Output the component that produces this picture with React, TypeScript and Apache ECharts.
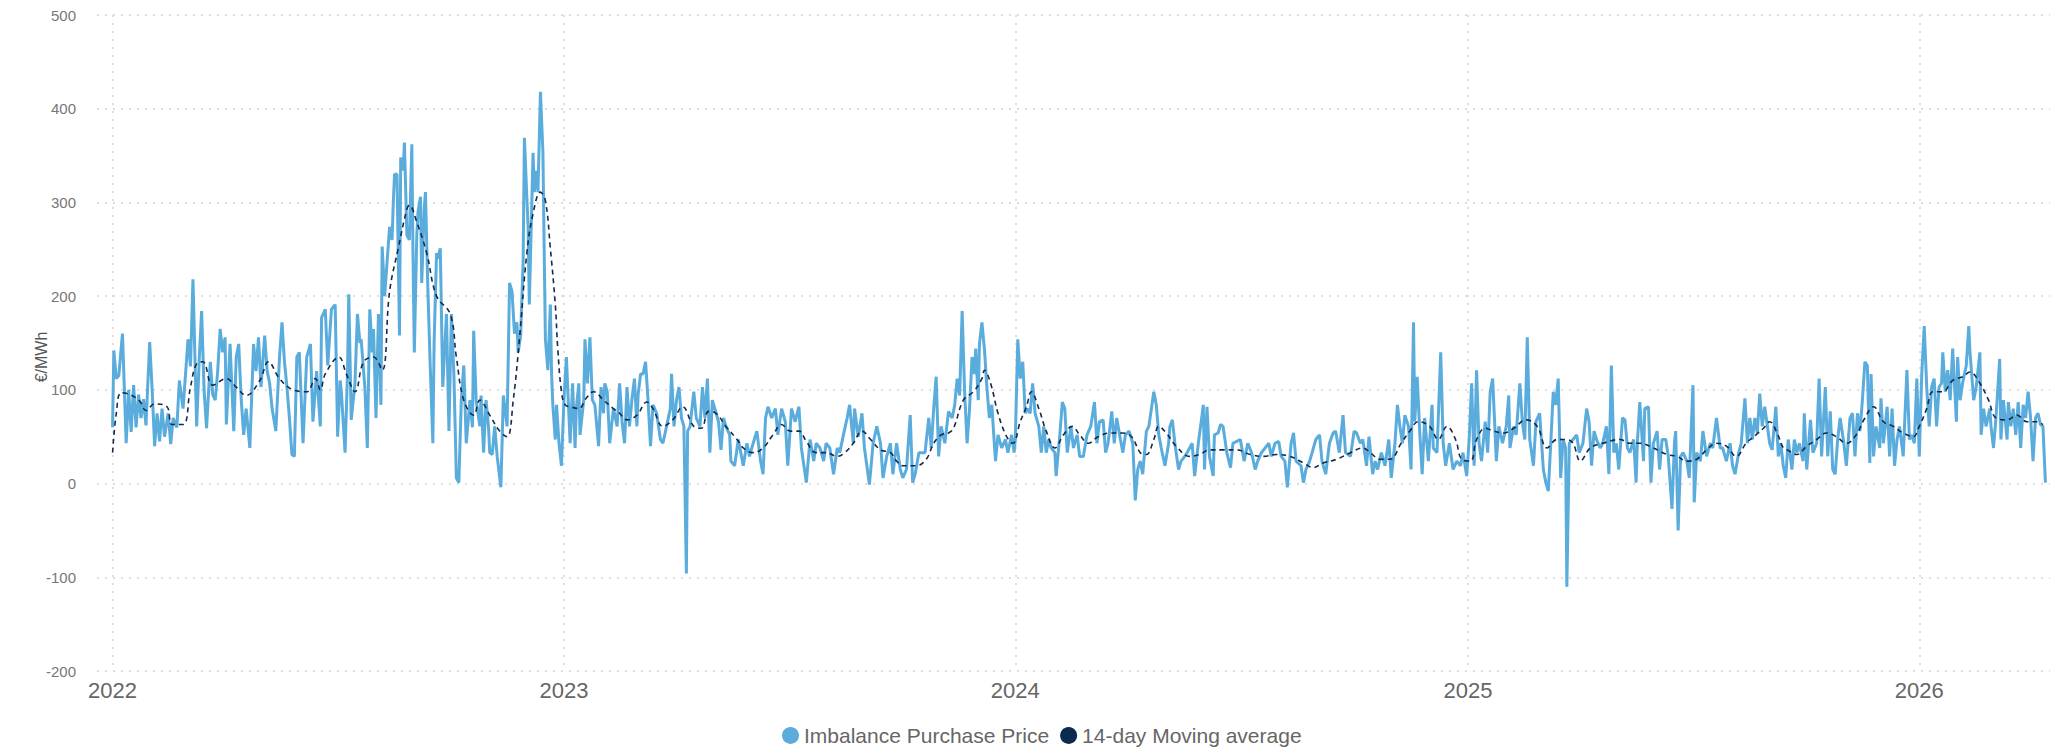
import { useEffect, useRef } from "react";
import * as echarts from "echarts";

// x values: day offset from 2022-01-01, y values: €/MWh
const seriesNames = ["Imbalance Purchase Price", "14-day Moving average"];
const yAxisName = "€/MWh";
const yMin = -200;
const yMax = 500;
const yStep = 100;

const price2022 = [[0,60],[1,142],[3,112],[5,115],[8,160],[11,43],[13,100],[15,55],[17,105],[19,60],[21,95],[23,70],[25,90],[27,62],[30,151],[32,100],[34,40],[36,75],[38,45],[40,80],[42,50],[45,75],[47,42],[49,70],[52,60],[54,110],[57,80],[61,154],[63,125],[65,218],[68,61],[70,130],[72,184],[74,100],[76,59],[79,130],[81,95],[83,89],[85,120],[87,165],[89,140],[91,156],[92,63],[95,149],[98,56],[100,135],[102,149],[104,90],[106,52],[108,80],[111,38],[114,149],[116,120],[118,156],[120,103],[123,158],[125,120],[127,107],[129,80],[132,56],[135,135],[137,172],[139,130],[141,103],[143,70],[145,31],[147,29],[149,135],[151,140],[154,43],[157,135],[160,149],[162,66],[165,120],[168,61],[169,177],[172,186],[174,126],[177,186],[180,191],[182,50],[184,110],[185,98],[188,33],[190,120],[191,202],[193,68],[196,107],[198,181],[200,150],[201,154],[204,103],[206,38],[208,186],[210,140],[211,165],[213,70],[215,181],[217,84],[218,253],[220,200],[222,237],[224,274],[226,260],[227,300],[228,330],[230,330],[232,158],[233,348],[235,334],[236,364],[238,265],[240,260],[242,362],[243,237],[244,140],[246,265],[247,290],[249,306],[250,214],[252,293],[253,311],[255,205],[257,120],[259,43],[260,150],[262,246],[263,240],[265,251],[267,103],[270,181],[272,56],[274,181],[276,117],[278,6],[280,1],[282,89],[284,126],[286,43],[289,89],[291,60],[292,163],[294,89],[297,61],[298,94],[300,33],[302,89],[304,60],[305,33],[307,31],[309,61],[311,29],[314,-4],[316,94],[319,61],[321,214],[323,205],[325,160],[327,172],[328,140],[330,158],[332,237],[333,369],[336,274],[337,191],[340,353],[341,311],[343,334],[344,311],[346,418],[348,353],[349,251],[350,154],[352,121],[354,191],[355,117],[356,84],[358,47],[359,84],[361,43],[363,19]];

const price2023 = [[365,89],[367,135],[368,103],[370,43],[372,107],[374,38],[375,80],[377,107],[378,52],[381,89],[382,154],[384,107],[386,156],[388,89],[390,84],[393,40],[395,103],[397,75],[398,107],[400,98],[402,43],[405,80],[408,61],[410,107],[412,66],[414,43],[416,103],[418,61],[420,90],[422,112],[424,61],[425,95],[427,117],[429,117],[431,130],[433,89],[435,40],[437,84],[440,75],[443,47],[445,43],[448,61],[451,80],[452,117],[454,61],[456,89],[458,103],[460,70],[462,61],[464,-96],[465,56],[467,61],[470,98],[472,70],[475,61],[477,103],[479,70],[481,112],[483,33],[485,89],[487,80],[490,66],[492,36],[494,70],[496,61],[499,52],[500,24],[503,19],[506,47],[510,19],[513,43],[515,29],[518,43],[521,56],[524,24],[526,10],[528,70],[530,82],[533,70],[536,80],[538,52],[541,80],[544,66],[546,19],[549,80],[552,66],[555,82],[557,38],[561,1],[564,47],[567,24],[569,43],[572,38],[575,24],[577,43],[580,38],[583,10],[586,38],[588,33],[591,52],[594,70],[596,84],[599,43],[600,80],[603,50],[606,75],[608,38],[612,-1],[615,43],[618,61],[621,43],[623,6],[626,29],[629,43],[631,10],[634,43],[637,15],[639,6],[642,15],[645,73],[647,1],[649,10],[652,33],[654,33],[657,33],[660,70],[662,38],[664,80],[666,114],[668,29],[670,61],[673,43],[676,77],[679,70],[681,84],[683,112],[685,94],[687,184],[689,98],[691,43],[693,80],[695,135],[697,117],[698,144],[700,89],[701,149],[703,172],[705,144],[707,103],[709,70],[711,84],[713,43],[714,24],[716,52],[719,38],[722,47],[724,33],[727,52],[729,33]];

const price2024 = [[730,47],[732,154],[734,112],[736,130],[738,75],[740,80],[742,75],[744,107],[746,75],[749,61],[751,33],[753,61],[755,33],[757,47],[759,38],[762,33],[763,8],[766,52],[768,87],[770,80],[772,33],[775,61],[777,38],[780,52],[782,29],[785,29],[788,52],[791,61],[794,87],[796,43],[798,66],[801,68],[803,33],[805,43],[808,77],[810,43],[812,70],[815,47],[817,33],[819,52],[822,56],[825,43],[827,-18],[829,15],[831,24],[833,10],[836,56],[838,61],[842,98],[844,84],[846,52],[848,38],[851,19],[854,43],[855,61],[857,68],[859,43],[862,15],[864,24],[867,29],[869,33],[873,43],[875,8],[878,43],[881,73],[882,84],[883,15],[885,82],[887,29],[890,8],[891,52],[894,54],[896,63],[898,61],[901,33],[904,17],[906,43],[909,45],[912,47],[915,24],[918,43],[921,33],[924,15],[926,24],[929,33],[932,38],[935,43],[937,29],[940,43],[943,45],[945,29],[948,24],[950,-4],[953,43],[955,54],[957,24],[961,19],[963,1],[965,15],[968,24],[970,33],[973,47],[976,52],[978,24],[981,10],[984,43],[987,54],[989,56],[992,33],[995,73],[997,33],[1001,29],[1004,56],[1006,54],[1009,43],[1011,47],[1014,19],[1016,50],[1019,10],[1021,24],[1023,15],[1026,33],[1029,19],[1032,47],[1034,6],[1037,43],[1039,84],[1041,61],[1043,43],[1045,73],[1048,61],[1050,15],[1052,172],[1053,66],[1055,114],[1057,56],[1059,10],[1061,70],[1064,24],[1067,84],[1068,38],[1071,33],[1074,140],[1076,43],[1078,19],[1081,43],[1084,15],[1087,24],[1090,19],[1092,33],[1095,8]];

const price2025 = [[1097,47],[1099,107],[1101,19],[1103,121],[1105,43],[1107,24],[1110,66],[1112,33],[1114,98],[1116,112],[1119,24],[1121,61],[1124,43],[1127,61],[1129,94],[1130,38],[1133,61],[1135,52],[1138,107],[1140,66],[1142,47],[1144,156],[1146,47],[1149,19],[1151,66],[1154,75],[1157,15],[1159,1],[1161,-8],[1163,43],[1165,98],[1167,84],[1169,112],[1171,6],[1173,47],[1175,38],[1176,-110],[1178,43],[1181,47],[1184,52],[1186,33],[1189,43],[1192,80],[1194,66],[1196,19],[1198,56],[1200,47],[1203,38],[1205,43],[1208,61],[1210,10],[1212,126],[1214,33],[1216,43],[1218,15],[1221,70],[1223,68],[1225,38],[1227,33],[1230,47],[1232,1],[1233,43],[1235,87],[1238,24],[1239,80],[1242,82],[1244,1],[1246,43],[1249,56],[1251,15],[1253,47],[1256,47],[1258,29],[1261,-27],[1263,43],[1264,56],[1266,-50],[1268,29],[1270,33],[1273,24],[1275,6],[1278,105],[1279,-20],[1281,33],[1284,24],[1286,56],[1289,29],[1292,43],[1294,38],[1297,70],[1300,38],[1302,38],[1305,24],[1308,43],[1310,19],[1312,10],[1315,33],[1317,43],[1320,91],[1322,43],[1324,70],[1326,47],[1328,70],[1330,54],[1332,96],[1334,61],[1336,82],[1338,63],[1340,43],[1342,36],[1345,82],[1347,29],[1349,43],[1351,19],[1353,6],[1355,47],[1358,15],[1360,47],[1362,33],[1364,43],[1367,24],[1368,75],[1370,15],[1373,68],[1375,33],[1378,43],[1380,112],[1382,29],[1385,103],[1387,29],[1389,77],[1391,15],[1393,10],[1395,47],[1397,70],[1400,43],[1402,19],[1405,70],[1407,75],[1409,29],[1411,75],[1413,56],[1415,89],[1417,130],[1419,126],[1421,22],[1422,117],[1424,29],[1426,61],[1429,38],[1430,91],[1432,43],[1435,82],[1437,29],[1439,80],[1441,19],[1443,47],[1445,61],[1448,29],[1451,121],[1453,47],[1455,52],[1457,43],[1459,112]];

const price2026 = [[1461,29],[1463,117],[1465,168],[1467,103],[1469,61],[1471,103],[1473,112],[1475,61],[1477,103],[1479,107],[1480,140],[1482,98],[1484,121],[1486,89],[1488,144],[1491,66],[1492,135],[1494,89],[1496,107],[1499,126],[1501,168],[1502,140],[1505,89],[1507,103],[1510,140],[1511,52],[1513,80],[1515,61],[1518,80],[1519,61],[1521,38],[1523,70],[1526,133],[1527,47],[1529,89],[1532,47],[1533,87],[1535,61],[1537,80],[1539,52],[1541,87],[1543,38],[1545,84],[1547,70],[1549,98],[1551,70],[1553,24],[1555,70],[1557,75],[1559,63],[1561,61],[1563,1]];

const ma2022 = [[0,33],[3,75],[7,97],[14,95],[22,88],[27,78],[34,85],[44,82],[48,63],[57,63],[63,103],[68,128],[73,130],[81,105],[92,112],[100,103],[108,94],[119,110],[126,130],[135,112],[146,100],[157,98],[164,112],[168,100],[172,117],[183,135],[189,117],[196,98],[203,130],[211,135],[218,121],[224,205],[231,251],[238,293],[240,297],[246,279],[254,246],[262,200],[273,181],[278,135],[284,89],[292,73],[297,89],[305,73],[313,56],[319,50],[324,89],[329,154],[335,246],[340,288],[346,311],[350,302],[354,251],[358,191],[360,144],[363,98]];
const ma2023 = [[366,84],[370,82],[377,80],[383,91],[389,98],[397,89],[405,80],[410,75],[416,68],[424,73],[432,87],[437,80],[445,61],[453,68],[461,82],[470,61],[476,59],[482,77],[488,75],[496,61],[505,47],[510,38],[518,33],[526,38],[534,52],[541,63],[548,56],[555,56],[561,45],[569,33],[577,33],[586,29],[592,33],[599,43],[606,56],[613,47],[621,36],[629,33],[634,24],[639,19],[650,19],[658,26],[664,43],[670,52],[676,54],[680,59],[688,89],[696,98],[703,112],[705,121],[710,107],[716,75],[723,50],[728,43]];
const ma2024 = [[734,66],[739,82],[743,98],[749,80],[755,56],[762,38],[769,52],[776,61],[782,52],[789,43],[797,50],[807,54],[816,54],[824,50],[831,33],[836,31],[842,47],[846,61],[852,54],[860,40],[871,29],[879,31],[887,36],[898,36],[909,36],[920,31],[931,29],[941,31],[952,29],[963,22],[971,17],[979,22],[990,26],[1001,33],[1011,38],[1017,33],[1025,26],[1033,26],[1042,43],[1049,56],[1056,66],[1065,61],[1072,47],[1079,61],[1086,47],[1091,26]];
const ma2025 = [[1098,24],[1103,47],[1110,59],[1117,56],[1125,54],[1133,59],[1143,68],[1152,61],[1160,38],[1168,47],[1176,47],[1181,43],[1187,24],[1195,38],[1205,43],[1219,47],[1227,43],[1235,43],[1246,38],[1257,31],[1265,29],[1273,24],[1281,26],[1289,36],[1297,43],[1305,40],[1313,29],[1321,43],[1329,52],[1335,59],[1340,66],[1346,54],[1351,38],[1354,36],[1362,31],[1370,40],[1378,47],[1386,54],[1394,50],[1402,43],[1410,52],[1417,70],[1424,82],[1432,66],[1440,61],[1448,54],[1456,50]];
const ma2026 = [[1461,61],[1467,80],[1472,98],[1480,98],[1488,110],[1496,114],[1502,119],[1510,107],[1517,89],[1523,70],[1532,68],[1540,73],[1548,66],[1556,66],[1561,63]];

const DAY = 86400000;
const toPoint = (p: number[]) => [new Date(2022, 0, 1 + p[0]).getTime(), p[1]];

export default function App() {
  const ref = useRef<HTMLDivElement>(null);
  useEffect(() => {
    if (!ref.current) return;
    const chart = echarts.init(ref.current, null, { renderer: "svg" });
    const t0 = new Date(2022, 0, 1).getTime();
    const priceData = [...price2022, ...price2023, ...price2024, ...price2025, ...price2026].map(toPoint);
    const maData = [...ma2022, ...ma2023, ...ma2024, ...ma2025, ...ma2026].map(toPoint);
    const font = "'Liberation Sans', Arial, sans-serif";
    const grid = { type: [2, 6] as any, color: "#d4d4d4", width: 1.5 };
    chart.setOption({
      animation: false,
      textStyle: { fontFamily: font },
      grid: { left: 97, right: 3, top: 15, bottom: 76 },
      legend: {
        left: 777,
        top: 720,
        icon: "circle",
        itemWidth: 17,
        itemHeight: 17,
        itemGap: 11,
        textStyle: { fontSize: 21, color: "#666", fontFamily: font },
        data: seriesNames,
      },
      xAxis: {
        type: "time",
        min: t0 - 12.6 * DAY,
        max: t0 + 1566.7 * DAY,
        splitNumber: 4,
        minInterval: 365 * DAY,
        axisLine: { show: false },
        axisTick: { show: false },
        axisLabel: {
          fontSize: 22,
          color: "#666",
          margin: 8,
          fontFamily: font,
          showMinLabel: false,
          showMaxLabel: false,
          formatter: (v: number) => {
            const d = new Date(v);
            return d.getMonth() === 0 && d.getDate() === 1 ? String(d.getFullYear()) : "";
          },
        },
        splitLine: { show: true, showMinLine: false, showMaxLine: false, lineStyle: grid },
      },
      yAxis: {
        type: "value",
        min: yMin,
        max: yMax,
        interval: yStep,
        name: yAxisName,
        nameLocation: "middle",
        nameRotate: 90,
        nameGap: 48,
        nameMoveOverlap: false,
        nameTextStyle: { fontSize: 16, color: "#555", fontFamily: font, padding: [0, 28, 0, 0] },
        axisLine: { show: false },
        axisTick: { show: false },
        axisLabel: { fontSize: 15, color: "#777", margin: 21, fontFamily: font },
        splitLine: { show: true, lineStyle: grid },
      },
      series: [
        {
          name: seriesNames[0],
          type: "line",
          data: priceData,
          symbol: "none",
          lineStyle: { color: "#5aacdc", width: 3 },
          itemStyle: { color: "#5aacdc" },
          z: 2,
        },
        {
          name: seriesNames[1],
          type: "line",
          data: maData,
          symbol: "none",
          smooth: 0.4,
          lineStyle: { color: "#15294a", width: 1.6, type: [5, 4] },
          itemStyle: { color: "#0c2a4f" },
          z: 3,
        },
      ],
    });
    return () => chart.dispose();
  }, []);
  return (
    <div
      ref={ref}
      style={{ position: "fixed", left: 0, top: 0, width: 2053, height: 747, background: "#fff" }}
    />
  );
}
